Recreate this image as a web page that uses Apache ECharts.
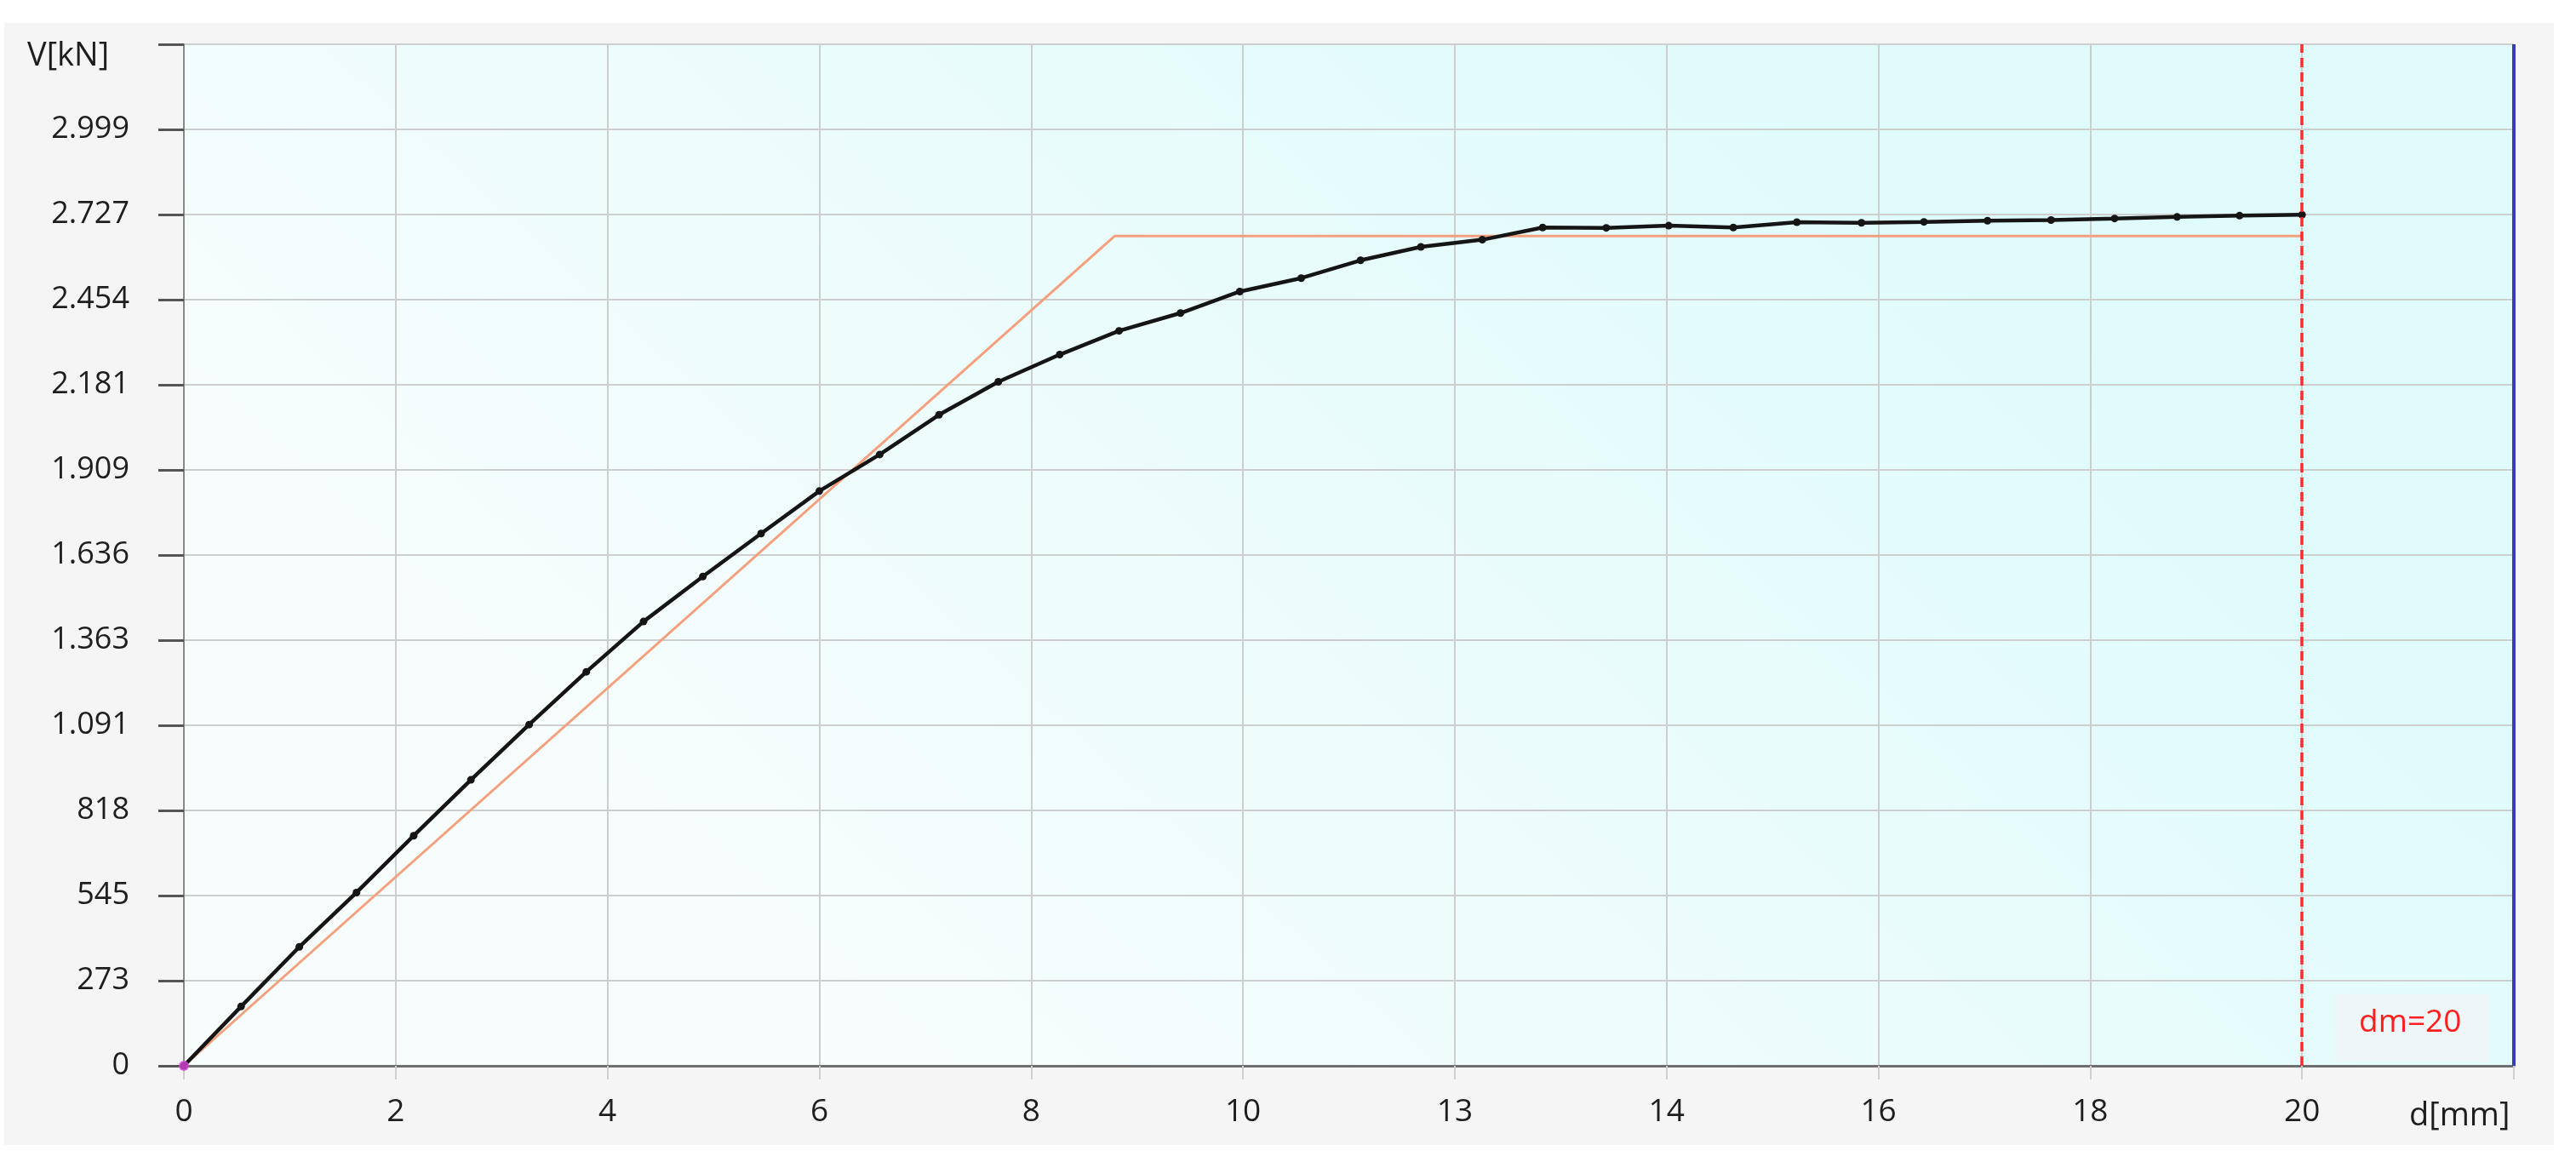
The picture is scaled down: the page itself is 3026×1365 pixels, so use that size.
<!DOCTYPE html>
<html>
<head>
<meta charset="utf-8">
<script src="https://cdn.jsdelivr.net/npm/echarts@6/dist/echarts.min.js"></script>
<style>
html,body{margin:0;padding:0;background:#ffffff;}
#chart{width:3026px;height:1365px;}
</style>
</head>
<body>
<div id="chart"></div>
<script>
// ---- data ----
const dispX = [0, 0.54, 1.09, 1.63, 2.17, 2.71, 3.26, 3.80, 4.34, 4.90, 5.45, 6.00, 6.57, 7.13, 7.69, 8.27, 8.83, 9.41, 9.97, 10.55, 11.11, 11.68, 12.26, 12.83, 13.43, 14.02, 14.63, 15.23, 15.84, 16.43, 17.03, 17.63, 18.23, 18.82, 19.41, 20.00];
const shearV = [0, 190, 381, 555, 737, 916, 1093, 1262, 1423, 1567, 1705, 1841, 1958, 2085, 2191, 2278, 2354, 2411, 2480, 2523, 2580, 2623, 2646, 2685, 2684, 2691, 2685, 2702, 2700, 2703, 2707, 2709, 2714, 2719, 2723, 2726];
const bilinX = [0, 8.79, 20];
const bilinV = [0, 2658, 2658];
const xTickLabels = ['0', '2', '4', '6', '8', '10', '13', '14', '16', '18', '20', ''];
const yTickLabels = ['0', '273', '545', '818', '1.091', '1.363', '1.636', '1.909', '2.181', '2.454', '2.727', '2.999', ''];
const xMax = 22;
const xStep = 2;
const yMax = 3272;
const dmValue = 20;
const dmLabel = 'dm=20';
const yName = 'V[kN]';
const xName = 'd[mm]';

const yStep = yMax / (yTickLabels.length - 1);
const FONT = '"Open Sans", "Noto Sans", sans-serif';

const chart = echarts.init(document.getElementById('chart'), null, {renderer: 'canvas'});

const option = {
  backgroundColor: '#ffffff',
  animation: false,
  grid: {
    left: 216, top: 52, right: 73, bottom: 113,
    show: true,
    borderWidth: 0,
    backgroundColor: new echarts.graphic.LinearGradient(0.3, 1, 0.7, 0, [
      {offset: 0, color: '#f7fdfd'},
      {offset: 0.5, color: '#ebfcfc'},
      {offset: 1, color: '#dffbfb'}
    ])
  },
  xAxis: {
    type: 'value',
    min: 0, max: xMax, interval: xStep,
    axisLine: {show: true, onZero: false, lineStyle: {color: '#6e6e6e', width: 3}},
    axisTick: {show: true, length: 16, lineStyle: {color: '#cfcfcf', width: 2}},
    splitLine: {show: true, lineStyle: {color: '#cdcfcf', width: 2}},
    axisLabel: {
      margin: 36,
      fontFamily: FONT, fontSize: 37, color: '#1e1e1e',
      formatter: function (v) { return xTickLabels[Math.round(v / xStep)] || ''; }
    }
  },
  yAxis: {
    type: 'value',
    min: 0, max: yMax, interval: yStep,
    axisLine: {show: true, lineStyle: {color: '#8a8a8a', width: 2}},
    axisTick: {show: true, length: 30, lineStyle: {color: '#555555', width: 3}},
    splitLine: {show: true, lineStyle: {color: '#cdcfcf', width: 2}},
    axisLabel: {
      margin: 64,
      fontFamily: FONT, fontSize: 36, color: '#1e1e1e',
      formatter: function (v) { return yTickLabels[Math.round(v / yStep)] || ''; }
    }
  },
  graphic: [
    {type: 'rect', z: -100, silent: true, shape: {x: 5, y: 27, width: 2995, height: 1318}, style: {fill: '#f5f5f5'}},
    {type: 'text', left: 32, top: 47, style: {text: yName, font: '38px ' + FONT, fill: '#1e1e1e'}},
    {type: 'text', left: 2830, top: 1292, style: {text: xName, font: '38px ' + FONT, fill: '#1e1e1e'}},
    {type: 'rect', shape: {x: 2743, y: 1168, width: 180, height: 79}, style: {fill: '#eef6f7'}, z: 5},
    {type: 'text', z: 6, left: 2771, top: 1183, style: {text: dmLabel, font: '37px ' + FONT, fill: '#ff1f1f'}}
  ],
  series: [
    {
      name: 'bilinear',
      type: 'line',
      data: bilinX.map((x, i) => [x, bilinV[i]]),
      symbol: 'none',
      lineStyle: {color: '#f5a07c', width: 3},
      z: 2
    },
    {
      name: 'V-d',
      type: 'line',
      data: dispX.map((x, i) => [x, shearV[i]]),
      symbol: 'circle',
      symbolSize: 9,
      itemStyle: {color: '#151515'},
      lineStyle: {color: '#151515', width: 4.5},
      z: 4,
      markLine: {
        silent: true,
        symbol: 'none',
        label: {show: false},
        data: [
          {xAxis: dmValue, lineStyle: {color: '#ff2b2b', width: 3.5, type: [11, 6]}},
          {xAxis: xMax, lineStyle: {color: '#3b3db5', width: 4, type: 'solid'}}
        ]
      }
    },
    {
      name: 'origin',
      type: 'scatter',
      data: [[dispX[0], shearV[0]]],
      symbolSize: 12,
      itemStyle: {color: '#d845d8'},
      z: 6
    }
  ]
};
chart.setOption(option);
</script>
</body>
</html>
